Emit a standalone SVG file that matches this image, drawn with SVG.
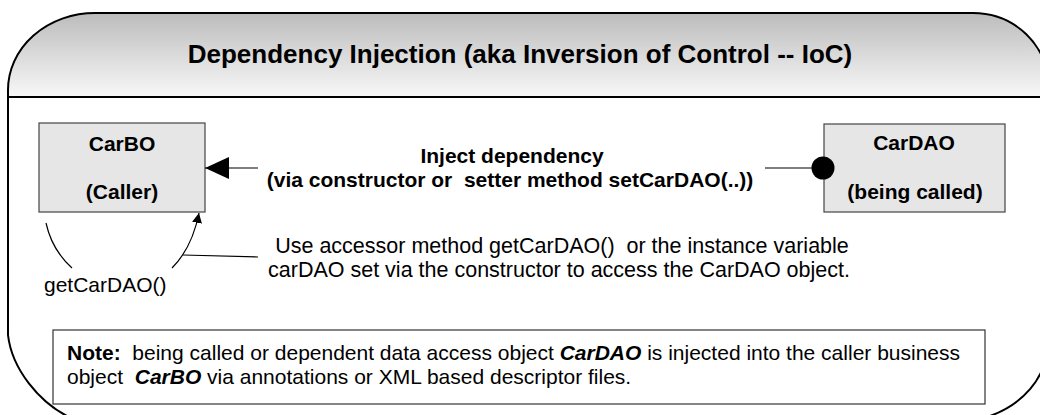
<svg xmlns="http://www.w3.org/2000/svg" width="1040" height="415" viewBox="0 0 1040 415">
  <defs>
    <linearGradient id="hdr" x1="0" y1="0" x2="0" y2="1">
      <stop offset="0" stop-color="#bcbcbc"/>
      <stop offset="1" stop-color="#f8f8f8"/>
    </linearGradient>
    <marker id="bigArrow" viewBox="0 0 24 22" refX="24" refY="11" markerWidth="24" markerHeight="22" markerUnits="userSpaceOnUse" orient="auto">
      <path d="M0,0 L24,11 L0,22 Z" fill="#000"/>
    </marker>
    <marker id="smallArrow" viewBox="0 0 10 10" refX="10" refY="5" markerWidth="10" markerHeight="10" markerUnits="userSpaceOnUse" orient="auto">
      <path d="M0,0 L10,5 L0,10 Z" fill="#000"/>
    </marker>
    <style>
      .t { font-family: "Liberation Sans", Arial, sans-serif; fill: #000; }
      .b { font-weight: bold; }
      .box { fill: #e6e6e6; stroke: #444; stroke-width: 1.2; }
      .ln { fill: none; stroke: #000; stroke-width: 1.2; }
    </style>
  </defs>

  <g id="frame">
    <path d="M8,97 L8,90 A87,77 0 0 1 95,13 L973,13 A75,72 0 0 1 1048,85 L1048,97 Z" fill="url(#hdr)"/>
    <path d="M95,13 L973,13 A75,72 0 0 1 1048,85 L1048,340 C1048,380 1020,405 990,416 L67,416 C40,402 12,370 8,335 L8,90 A87,77 0 0 1 95,13 Z" fill="none" stroke="#000" stroke-width="2"/>
    <line x1="8" y1="97" x2="1048" y2="97" stroke="#000" stroke-width="2"/>
    <text class="t b" x="520" y="63" font-size="26" text-anchor="middle">Dependency Injection (aka Inversion of Control -- IoC)</text>
  </g>

  <g id="carbo">
    <rect class="box" x="39" y="123" width="166" height="89"/>
    <text class="t b" x="122" y="151" font-size="21" text-anchor="middle">CarBO</text>
    <text class="t b" x="122" y="199" font-size="21" text-anchor="middle">(Caller)</text>
  </g>

  <g id="cardao">
    <rect class="box" x="824" y="124" width="181" height="88"/>
    <text class="t b" x="914" y="150" font-size="21" text-anchor="middle">CarDAO</text>
    <text class="t b" x="915" y="199" font-size="21" text-anchor="middle">(being called)</text>
  </g>

  <g id="connectors">
    <line class="ln" x1="258" y1="168" x2="205" y2="168" marker-end="url(#bigArrow)"/>
    <line class="ln" x1="765" y1="168" x2="823" y2="168"/>
    <circle cx="823" cy="168" r="11.5" fill="#000"/>
    <path class="ln" d="M46,223 Q52,250 72,268"/>
    <path class="ln" d="M172,268 Q192,248 199,213" marker-end="url(#smallArrow)"/>
    <line class="ln" x1="183" y1="255" x2="258" y2="257"/>
  </g>

  <g id="labels">
    <text class="t b" x="512" y="163" font-size="21" text-anchor="middle">Inject dependency</text>
    <text class="t b" x="510" y="187" font-size="21" text-anchor="middle" xml:space="preserve">(via constructor or  setter method setCarDAO(..))</text>
    <text class="t" x="562" y="253" font-size="21.5" text-anchor="middle" xml:space="preserve">Use accessor method getCarDAO()  or the instance variable</text>
    <text class="t" x="559" y="277" font-size="21.5" text-anchor="middle">carDAO set via the constructor to access the CarDAO object.</text>
    <text class="t" x="44" y="292" font-size="21">getCarDAO()</text>
  </g>

  <g id="note">
    <rect x="53" y="330" width="932" height="74" fill="#fff" stroke="#333" stroke-width="1.2"/>
    <text class="t" x="67" y="360" font-size="21" xml:space="preserve"><tspan class="b">Note:</tspan>  being called or dependent data access object <tspan font-weight="bold" font-style="italic">CarDAO</tspan> is injected into the caller business</text>
    <text class="t" x="67" y="384" font-size="21" xml:space="preserve">object  <tspan font-weight="bold" font-style="italic">CarBO</tspan> via annotations or XML based descriptor files.</text>
  </g>
</svg>
